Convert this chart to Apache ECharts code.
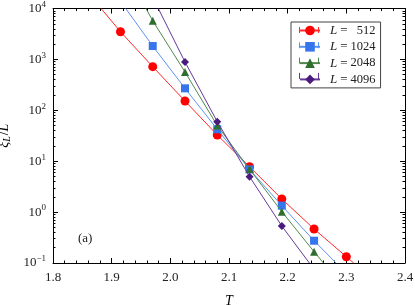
<!DOCTYPE html>
<html><head><meta charset="utf-8">
<script src="https://cdn.jsdelivr.net/npm/echarts@6/dist/echarts.min.js"></script>
<style>html,body{margin:0;padding:0;background:#fff}#c{width:415px;height:306px}</style>
</head><body><div id="c"></div>
<script>
// ---- data ----
const sizes = ['512', '1024', '2048', '4096'];
const T512 = [1.915, 1.970, 2.025, 2.080, 2.135, 2.190, 2.245, 2.300];
const xi512 = [3500, 720, 152, 32.7, 7.8, 1.81, 0.466, 0.133];
const T1024 = [1.970, 2.025, 2.080, 2.135, 2.190, 2.245];
const xi1024 = [1830, 270, 42.4, 6.9, 1.34, 0.274];
const T2048 = [1.970, 2.025, 2.080, 2.135, 2.190, 2.245];
const xi2048 = [5750, 565, 50, 7.0, 1.02, 0.167];
const T4096 = [2.025, 2.080, 2.135, 2.190];
const xi4096 = [890, 59.7, 4.97, 0.533];
// where each fitted curve leaves the frame (T at xi/L = 1e4 and at 0.1)
const fitTopT = [1.882, 1.924, 1.9585, 1.9795];
const fitBottomT = [2.3125, 2.2825, 2.261, 2.237];
const xTickLabels = ['1.8', '1.9', '2.0', '2.1', '2.2', '2.3', '2.4'];
const yDecades = [0.1, 1, 10, 100, 1000, 10000];

const Ts = [T512, T1024, T2048, T4096];
const XIs = [xi512, xi1024, xi2048, xi4096];
const markerColors = ['#ff0000', '#3576ec', '#2f6e2f', '#4a1a7e'];
const lineColors = ['#ff2a2a', '#5a94f2', '#4e8a4e', '#66389a'];
const symbols = ['circle', 'rect', 'triangle', 'diamond'];
const symSizes = [9, 8, 8, 8];

const minorY = [];
for (let i = 0; i < yDecades.length - 1; i++) for (let k = 2; k <= 9; k++) minorY.push(+(k * yDecades[i]).toPrecision(3));

const serif = '"Liberation Serif", "DejaVu Serif", serif';
const xMin = +xTickLabels[0], xMax = +xTickLabels[xTickLabels.length - 1];
const yMin = yDecades[0], yMax = yDecades[yDecades.length - 1];

const series = sizes.map((s, i) => {
  const data = [{ value: [fitTopT[i], yMax], symbol: 'none' }];
  Ts[i].forEach((t, j) => data.push([t, XIs[i][j]]));
  data.push({ value: [fitBottomT[i], yMin], symbol: 'none' });
  return {
    name: s, type: 'line', xAxisIndex: 0, yAxisIndex: 0,
    data, symbol: symbols[i], symbolSize: symSizes[i], showAllSymbol: true,
    lineStyle: { color: lineColors[i], width: 1 },
    itemStyle: { color: markerColors[i] },
    emphasis: { disabled: true }, animation: false, z: 3 + i
  };
});

const axisLineStyle = { lineStyle: { color: '#000', width: 1 } };
const xCommon = {
  type: 'value', min: xMin, max: xMax, interval: 0.1,
  axisLine: axisLineStyle,
  axisTick: { inside: true, length: 5, lineStyle: { color: '#000' } },
  minorTick: { show: true, splitNumber: 5, length: 2.5, lineStyle: { color: '#000' } },
  splitLine: { show: false }
};
const yMajor = {
  type: 'log', logBase: 10, min: yMin, max: yMax,
  axisLine: axisLineStyle,
  axisTick: { inside: true, length: 5, lineStyle: { color: '#000' } },
  splitLine: { show: false }
};
const yMinor = {
  type: 'log', logBase: 10, min: yMin, max: yMax,
  axisLine: { show: false },
  axisTick: { inside: true, length: 2.5, customValues: minorY, lineStyle: { color: '#000' } },
  axisLabel: { show: false }, splitLine: { show: false }
};

// legend geometry
const legLeft = 291, legTop = 22, legPadT = 2, legPadL = 8, itemW = 20, itemH = 12, itemGap = 3.3;
const caps = [];
sizes.forEach((s, i) => {
  const cy = legTop + legPadT + i * (itemH + itemGap) + itemH / 2;
  [legLeft + legPadL + 0.5, legLeft + legPadL + itemW - 0.5].forEach(cx => {
    caps.push({ type: 'line', z: 100, shape: { x1: cx, y1: cy - 3, x2: cx, y2: cy + 3 },
      style: { stroke: lineColors[i], lineWidth: 1 } });
  });
});

const option = {
  animation: false,
  backgroundColor: '#fff',
  grid: { left: 53, right: 10, top: 8.5, bottom: 43, containLabel: false, outerBoundsMode: 'none' },
  xAxis: [
    Object.assign({}, xCommon, {
      position: 'bottom',
      name: 'T', nameLocation: 'middle', nameGap: 31,
      nameTextStyle: { fontFamily: serif, fontStyle: 'italic', fontSize: 14, color: '#000' },
      axisLabel: { margin: 8, fontFamily: serif, fontSize: 13, color: '#222',
        formatter: v => xTickLabels.find(l => Math.abs(+l - v) < 1e-6) || '' }
    }),
    Object.assign({}, xCommon, { position: 'top', axisLabel: { show: false } })
  ],
  yAxis: [
    Object.assign({}, yMajor, {
      position: 'left',
      name: '{i|ξ}{sub|L}{n|/}{i|L}', nameLocation: 'middle', nameGap: 38, nameRotate: 90,
      nameTextStyle: { fontFamily: serif, fontSize: 14, color: '#000',
        rich: {
          i: { fontFamily: serif, fontStyle: 'italic', fontSize: 14, color: '#000' },
          sub: { fontFamily: serif, fontStyle: 'italic', fontSize: 10, color: '#000', padding: [7, 1, 0, 0] },
          n: { fontFamily: serif, fontSize: 14, color: '#000' }
        } },
      axisLabel: {
        margin: 7, color: '#222',
        formatter: v => {
          const e = Math.round(Math.log10(v));
          return '{b|10}{s|' + (e < 0 ? '\u2212' + (-e) : e) + '}';
        },
        rich: {
          b: { fontFamily: serif, fontSize: 13, color: '#222' },
          s: { fontFamily: serif, fontSize: 9, color: '#222', padding: [0, 0, 8, 0] }
        }
      }
    }),
    Object.assign({}, yMinor, { position: 'left' }),
    Object.assign({}, yMajor, { position: 'right', axisLabel: { show: false } }),
    Object.assign({}, yMinor, { position: 'right' })
  ],
  legend: {
    orient: 'vertical', left: legLeft, top: legTop,
    backgroundColor: '#fff', borderColor: '#444', borderWidth: 1, borderRadius: 0,
    padding: [legPadT, 5, 2, legPadL], itemGap: itemGap, itemWidth: itemW, itemHeight: itemH,
    data: sizes,
    formatter: n => '{i|L} {e|=} {n|' + n + '}',
    textStyle: {
      fontFamily: serif, fontSize: 12, color: '#222', padding: [0, 0, 0, 5], lineHeight: 12,
      rich: {
        i: { fontFamily: serif, fontStyle: 'italic', fontSize: 13, color: '#222', lineHeight: 12 },
        e: { fontFamily: serif, fontSize: 13, color: '#222', lineHeight: 12 },
        n: { fontFamily: serif, fontSize: 12.5, color: '#222', width: 25, align: 'right', lineHeight: 12 }
      }
    }
  },
  graphic: [
    { type: 'text', left: 78, top: 232, style: { text: '(a)', font: '13px ' + serif, fill: '#222' } }
  ].concat(caps),
  series
};

const chart = echarts.init(document.getElementById('c'), null, { renderer: 'canvas' });
chart.setOption(option);
</script>
</body></html>
